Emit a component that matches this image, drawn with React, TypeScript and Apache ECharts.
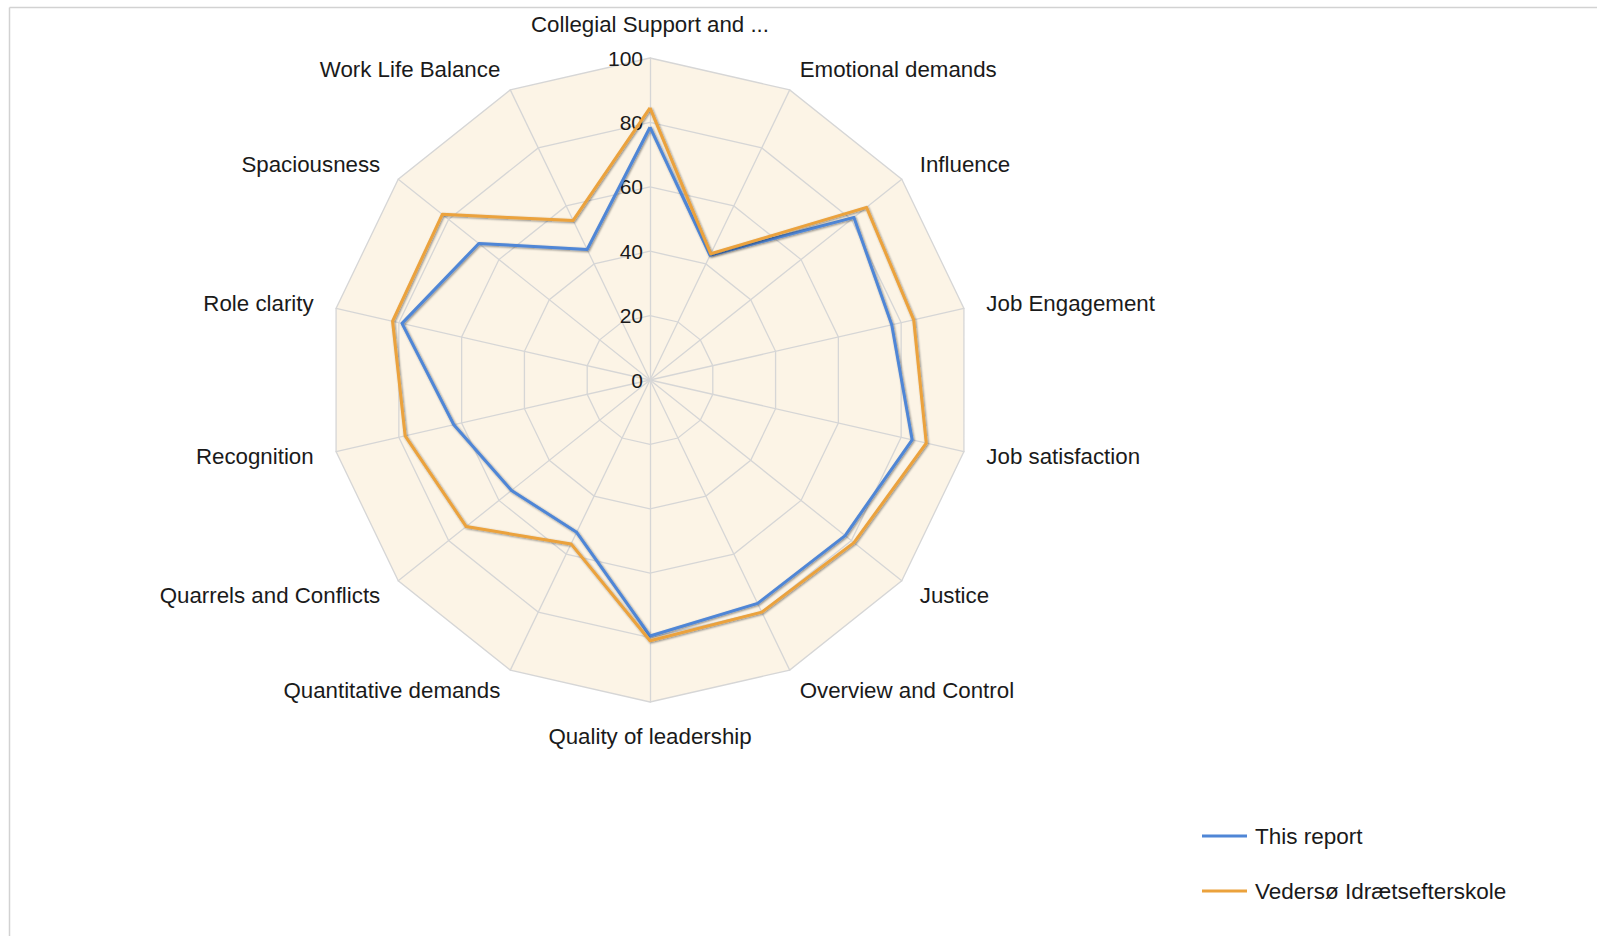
import React, { useEffect, useRef } from "react";
import * as echarts from "echarts";

// Categories, clockwise from the top
const categories: string[] = [
  "Collegial Support and ...",
  "Emotional demands",
  "Influence",
  "Job Engagement",
  "Job satisfaction",
  "Justice",
  "Overview and Control",
  "Quality of leadership",
  "Quantitative demands",
  "Quarrels and Conflicts",
  "Recognition",
  "Role clarity",
  "Spaciousness",
  "Work Life Balance",
];

const thisReport: number[] = [78.5, 43, 81, 77, 83.5, 77.5, 77, 79.5, 52.5, 55, 62.5, 79, 68, 45];
const vedersoe: number[] = [84.5, 43.5, 86, 84, 88, 81, 80, 81, 56.5, 73, 78, 82, 82.5, 55];

const seriesNames: string[] = ["This report", "Vedersø Idrætsefterskole"];
const seriesColors: string[] = ["#4f86d6", "#eba23c"];
const axisMax = 100;

// ECharts radar runs counter-clockwise: reorder to keep the first item on top and go clockwise
const order = categories.map((_, i) => (i === 0 ? 0 : categories.length - i));
const reorder = <T,>(arr: T[]): T[] => order.map((i) => arr[i]);

const FONT = "'Liberation Sans', Arial, sans-serif";
const TXT = "#1a1a1a";

export default function App() {
  const ref = useRef<HTMLDivElement>(null);
  useEffect(() => {
    if (!ref.current) return;
    const chart = echarts.init(ref.current, undefined, { renderer: "svg" });
    const indicator = reorder(categories).map((name, i) => {
      const ind: any = { name, min: 0, max: axisMax };
      if (i === 0) {
        ind.axisLabel = { show: true, fontSize: 21, color: TXT, fontFamily: FONT, margin: 7 };
      }
      return ind;
    });
    const values = [thisReport, vedersoe];
    chart.setOption({
      animation: false,
      backgroundColor: "#ffffff",
      textStyle: { fontFamily: FONT },
      graphic: [
        { type: "line", shape: { x1: 9.5, y1: 7.5, x2: 1597, y2: 7.5 }, style: { stroke: "#d2d2d2", lineWidth: 1.5 } },
        { type: "line", shape: { x1: 9.5, y1: 7.5, x2: 9.5, y2: 936 }, style: { stroke: "#d2d2d2", lineWidth: 1.5 } },
      ],
      legend: {
        orient: "vertical",
        left: 1197,
        top: 819,
        icon: "rect",
        itemWidth: 45,
        itemHeight: 3,
        itemGap: 31,
        data: seriesNames,
        textStyle: { fontSize: 22.5, color: TXT, fontFamily: FONT, lineHeight: 24, padding: [0, 0, 0, 3] },
      },
      radar: {
        center: [650, 380],
        radius: 322,
        startAngle: 90,
        splitNumber: 5,
        shape: "polygon",
        nameGap: 23,
        axisName: { color: TXT, fontSize: 22.3, fontFamily: FONT },
        axisLine: { lineStyle: { color: "#d6d6d6", width: 1.3 } },
        splitLine: { lineStyle: { color: "#d6d6d6", width: 1.3 } },
        splitArea: { areaStyle: { color: ["#fcf4e6"] } },
        axisLabel: { show: false },
        axisTick: { show: false },
        indicator,
      },
      series: [
        {
          type: "radar",
          symbol: "none",
          data: values.map((v, k) => ({
            name: seriesNames[k],
            value: reorder(v),
            lineStyle: {
              color: seriesColors[k],
              width: 3,
              shadowColor: "rgba(0,0,0,0.45)",
              shadowBlur: 2,
              shadowOffsetX: 1,
              shadowOffsetY: 1,
            },
            itemStyle: { color: seriesColors[k] },
          })),
        },
      ],
    });
    return () => chart.dispose();
  }, []);
  return (
    <div
      ref={ref}
      style={{ position: "fixed", left: 0, top: 0, width: 1597, height: 936, background: "#fff" }}
    />
  );
}
